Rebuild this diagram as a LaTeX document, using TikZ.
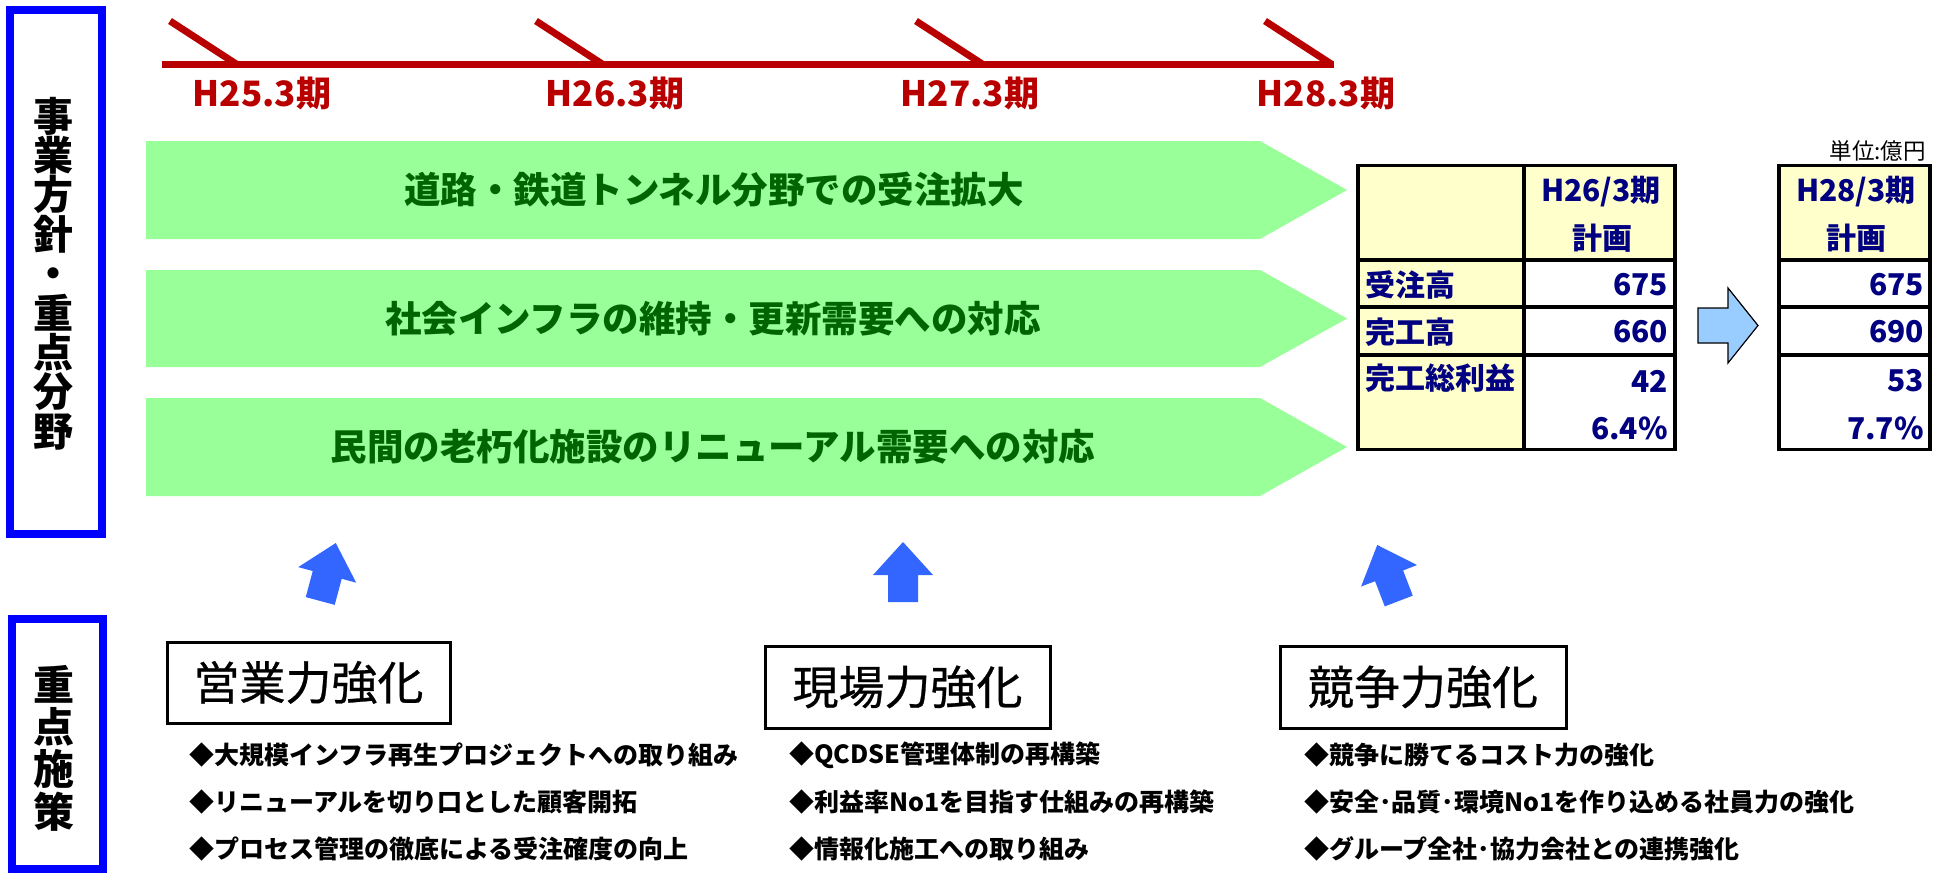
\documentclass[tikz,border=0pt]{standalone}
\usepackage{fontspec}
\setmainfont{Noto Sans CJK JP}
\newfontface\titleface[FakeBold=0.6]{Noto Sans CJK JP}
\definecolor{tlred}{RGB}{185,0,0}
\definecolor{bandgreen}{RGB}{153,255,153}
\definecolor{bandtext}{RGB}{0,100,0}
\definecolor{navytext}{RGB}{0,0,128}
\definecolor{cellyellow}{RGB}{255,255,204}
\definecolor{upblue}{RGB}{51,102,255}
\definecolor{lightblue}{RGB}{153,204,255}
\definecolor{frameblue}{RGB}{0,0,255}
\begin{document}
\begin{tikzpicture}[x=1pt,y=-1pt,
  frame/.style={draw=frameblue,line width=8pt,inner sep=0},
  vlabel/.style={font=\bfseries\fontsize{40}{39.4}\selectfont,align=center,inner sep=0},
  tlline/.style={draw=tlred,line width=7pt},
  period/.style={text=tlred,font=\bfseries\fontsize{35}{40}\selectfont,inner sep=0},
  bandfill/.style={fill=bandgreen},
  bandtxt/.style={text=bandtext,font=\bfseries\fontsize{36.5}{40}\selectfont,inner sep=0},
  tabtxt/.style={text=navytext,font=\bfseries\fontsize{30}{34}\selectfont,inner sep=0},
  tabouter/.style={draw=black,line width=3.5pt},
  tabinner/.style={draw=black,line width=4.5pt},
  unit/.style={font=\fontsize{22.5}{26}\selectfont,inner sep=0},
  titlebox/.style={draw=black,line width=3pt,fill=white,inner sep=0,font=\titleface\fontsize{46}{50}\selectfont},
  bullet/.style={font=\bfseries\fontsize{25}{28}\selectfont,inner sep=0,anchor=west},
  uparrow/.style={fill=upblue},
  rightarrow/.style={fill=lightblue,draw=black,line width=1.2pt}
]
\useasboundingbox (0,0) rectangle (1944,875);

% ---- left frames ----
\node[frame,minimum width=92,minimum height=524] (f1) at (56,272) {};
\node[vlabel] (f1t) at (53,273.5) {事\\業\\方\\針\\・\\重\\点\\分\\野};
\node[frame,minimum width=91,minimum height=250] (f2) at (57.5,744) {};
\node[vlabel,font=\bfseries\fontsize{41}{42.3}\selectfont] (f2t) at (54,748) {重\\点\\施\\策};

% ---- timeline ----
\coordinate (ts) at (162,64.5);
\coordinate (te) at (1334,64.5);
\draw[tlline] (ts) -- (te);
\coordinate (k1a) at (170,21);  \coordinate (k1b) at (237,64.5);
\coordinate (k2a) at (536,21);  \coordinate (k2b) at (603,64.5);
\coordinate (k3a) at (916,21);  \coordinate (k3b) at (983,64.5);
\coordinate (k4a) at (1265,21); \coordinate (k4b) at (1332,64.5);
\draw[tlline] (k1a) -- (k1b);
\draw[tlline] (k2a) -- (k2b);
\draw[tlline] (k3a) -- (k3b);
\draw[tlline] (k4a) -- (k4b);
\node[period] (p1) at (262,93) {H25.3期};
\node[period] (p2) at (615,93) {H26.3期};
\node[period] (p3) at (970,93) {H27.3期};
\node[period] (p4) at (1326,93) {H28.3期};

% ---- green bands ----
\fill[bandfill] (146,141) -- (1260,141) -- (1347,190) -- (1260,239) -- (146,239) -- cycle;
\fill[bandfill] (146,270) -- (1260,270) -- (1347,318.5) -- (1260,367) -- (146,367) -- cycle;
\fill[bandfill] (146,398) -- (1260,398) -- (1347,447) -- (1260,496) -- (146,496) -- cycle;
\node[bandtxt] (b1) at (714,190) {道路・鉄道トンネル分野での受注拡大};
\node[bandtxt] (b2) at (713,318.5) {社会インフラの維持・更新需要への対応};
\node[bandtxt] (b3) at (713,447) {民間の老朽化施設のリニューアル需要への対応};

% ---- table 1 ----
\fill[cellyellow] (1358,165.5) rectangle (1524,449.5);
\fill[cellyellow] (1524,165.5) rectangle (1675,260);
\draw[tabinner] (1524,165.5) -- (1524,449.5);
\draw[tabinner] (1358,260) -- (1675,260);
\draw[tabinner] (1358,307) -- (1675,307);
\draw[tabinner] (1358,355) -- (1675,355);
\draw[tabouter] (1358,165.5) rectangle (1675,449.5);
\node[tabtxt] (h1a) at (1601,192) {H26/3期};
\node[tabtxt] (h1b) at (1602,238) {計画};
\node[tabtxt,anchor=west] (r1) at (1365,285) {受注高};
\node[tabtxt,anchor=west] (r2) at (1365,332) {完工高};
\node[tabtxt,anchor=west] (r3) at (1365,378) {完工総利益};
\node[tabtxt,anchor=east] (v11) at (1668,285) {675};
\node[tabtxt,anchor=east] (v12) at (1668,332) {660};
\node[tabtxt,anchor=east] (v13) at (1668,381) {42};
\node[tabtxt,anchor=east] (v14) at (1668,428) {6.4\%};

% ---- arrow between tables ----
\draw[rightarrow] (1698,308) -- (1728,308) -- (1728,288) -- (1758,325.5) -- (1728,363) -- (1728,343) -- (1698,343) -- cycle;

% ---- table 2 ----
\fill[cellyellow] (1779,165.5) rectangle (1930,260);
\draw[tabinner] (1779,260) -- (1930,260);
\draw[tabinner] (1779,307) -- (1930,307);
\draw[tabinner] (1779,355) -- (1930,355);
\draw[tabouter] (1779,165.5) rectangle (1930,449.5);
\node[tabtxt] (h2a) at (1856,192) {H28/3期};
\node[tabtxt] (h2b) at (1856,238) {計画};
\node[tabtxt,anchor=east] (v21) at (1924,285) {675};
\node[tabtxt,anchor=east] (v22) at (1924,332) {690};
\node[tabtxt,anchor=east] (v23) at (1924,381) {53};
\node[tabtxt,anchor=east] (v24) at (1924,428) {7.7\%};
\node[unit,anchor=east] (u) at (1926,151) {単位:億円};

% ---- up arrows ----
\begin{scope}[shift={(328,572)},rotate=-15]
\fill[uparrow] (0,-30) -- (30,3) -- (15,3) -- (15,30) -- (-15,30) -- (-15,3) -- (-30,3) -- cycle;
\end{scope}
\begin{scope}[shift={(903,572)}]
\fill[uparrow] (0,-30) -- (30,3) -- (15,3) -- (15,30) -- (-15,30) -- (-15,3) -- (-30,3) -- cycle;
\end{scope}
\begin{scope}[shift={(1388,573)},rotate=21]
\fill[uparrow] (0,-30) -- (30,3) -- (15,3) -- (15,30) -- (-15,30) -- (-15,3) -- (-30,3) -- cycle;
\end{scope}

% ---- measures ----
\node[titlebox,minimum width=283,minimum height=81] (s1) at (308.5,682.5) {営業力強化};
\node[titlebox,minimum width=285,minimum height=82] (s2) at (907.5,687) {現場力強化};
\node[titlebox,minimum width=286,minimum height=82] (s3) at (1423,687) {競争力強化};

\node[bullet] (s1a) at (189,755) {◆大規模インフラ再生プロジェクトへの取り組み};
\node[bullet] (s1b) at (189,802) {◆リニューアルを切り口とした顧客開拓};
\node[bullet] (s1c) at (189,849) {◆プロセス管理の徹底による受注確度の向上};
\node[bullet] (s2a) at (789,755) {◆QCDSE管理体制の再構築};
\node[bullet] (s2b) at (789,802) {◆利益率No1を目指す仕組みの再構築};
\node[bullet] (s2c) at (789,849) {◆情報化施工への取り組み};
\node[bullet] (s3a) at (1304,755) {◆競争に勝てるコスト力の強化};
\node[bullet] (s3b) at (1304,802) {◆安全･品質･環境No1を作り込める社員力の強化};
\node[bullet] (s3c) at (1304,849) {◆グループ全社･協力会社との連携強化};
\end{tikzpicture}
\end{document}
